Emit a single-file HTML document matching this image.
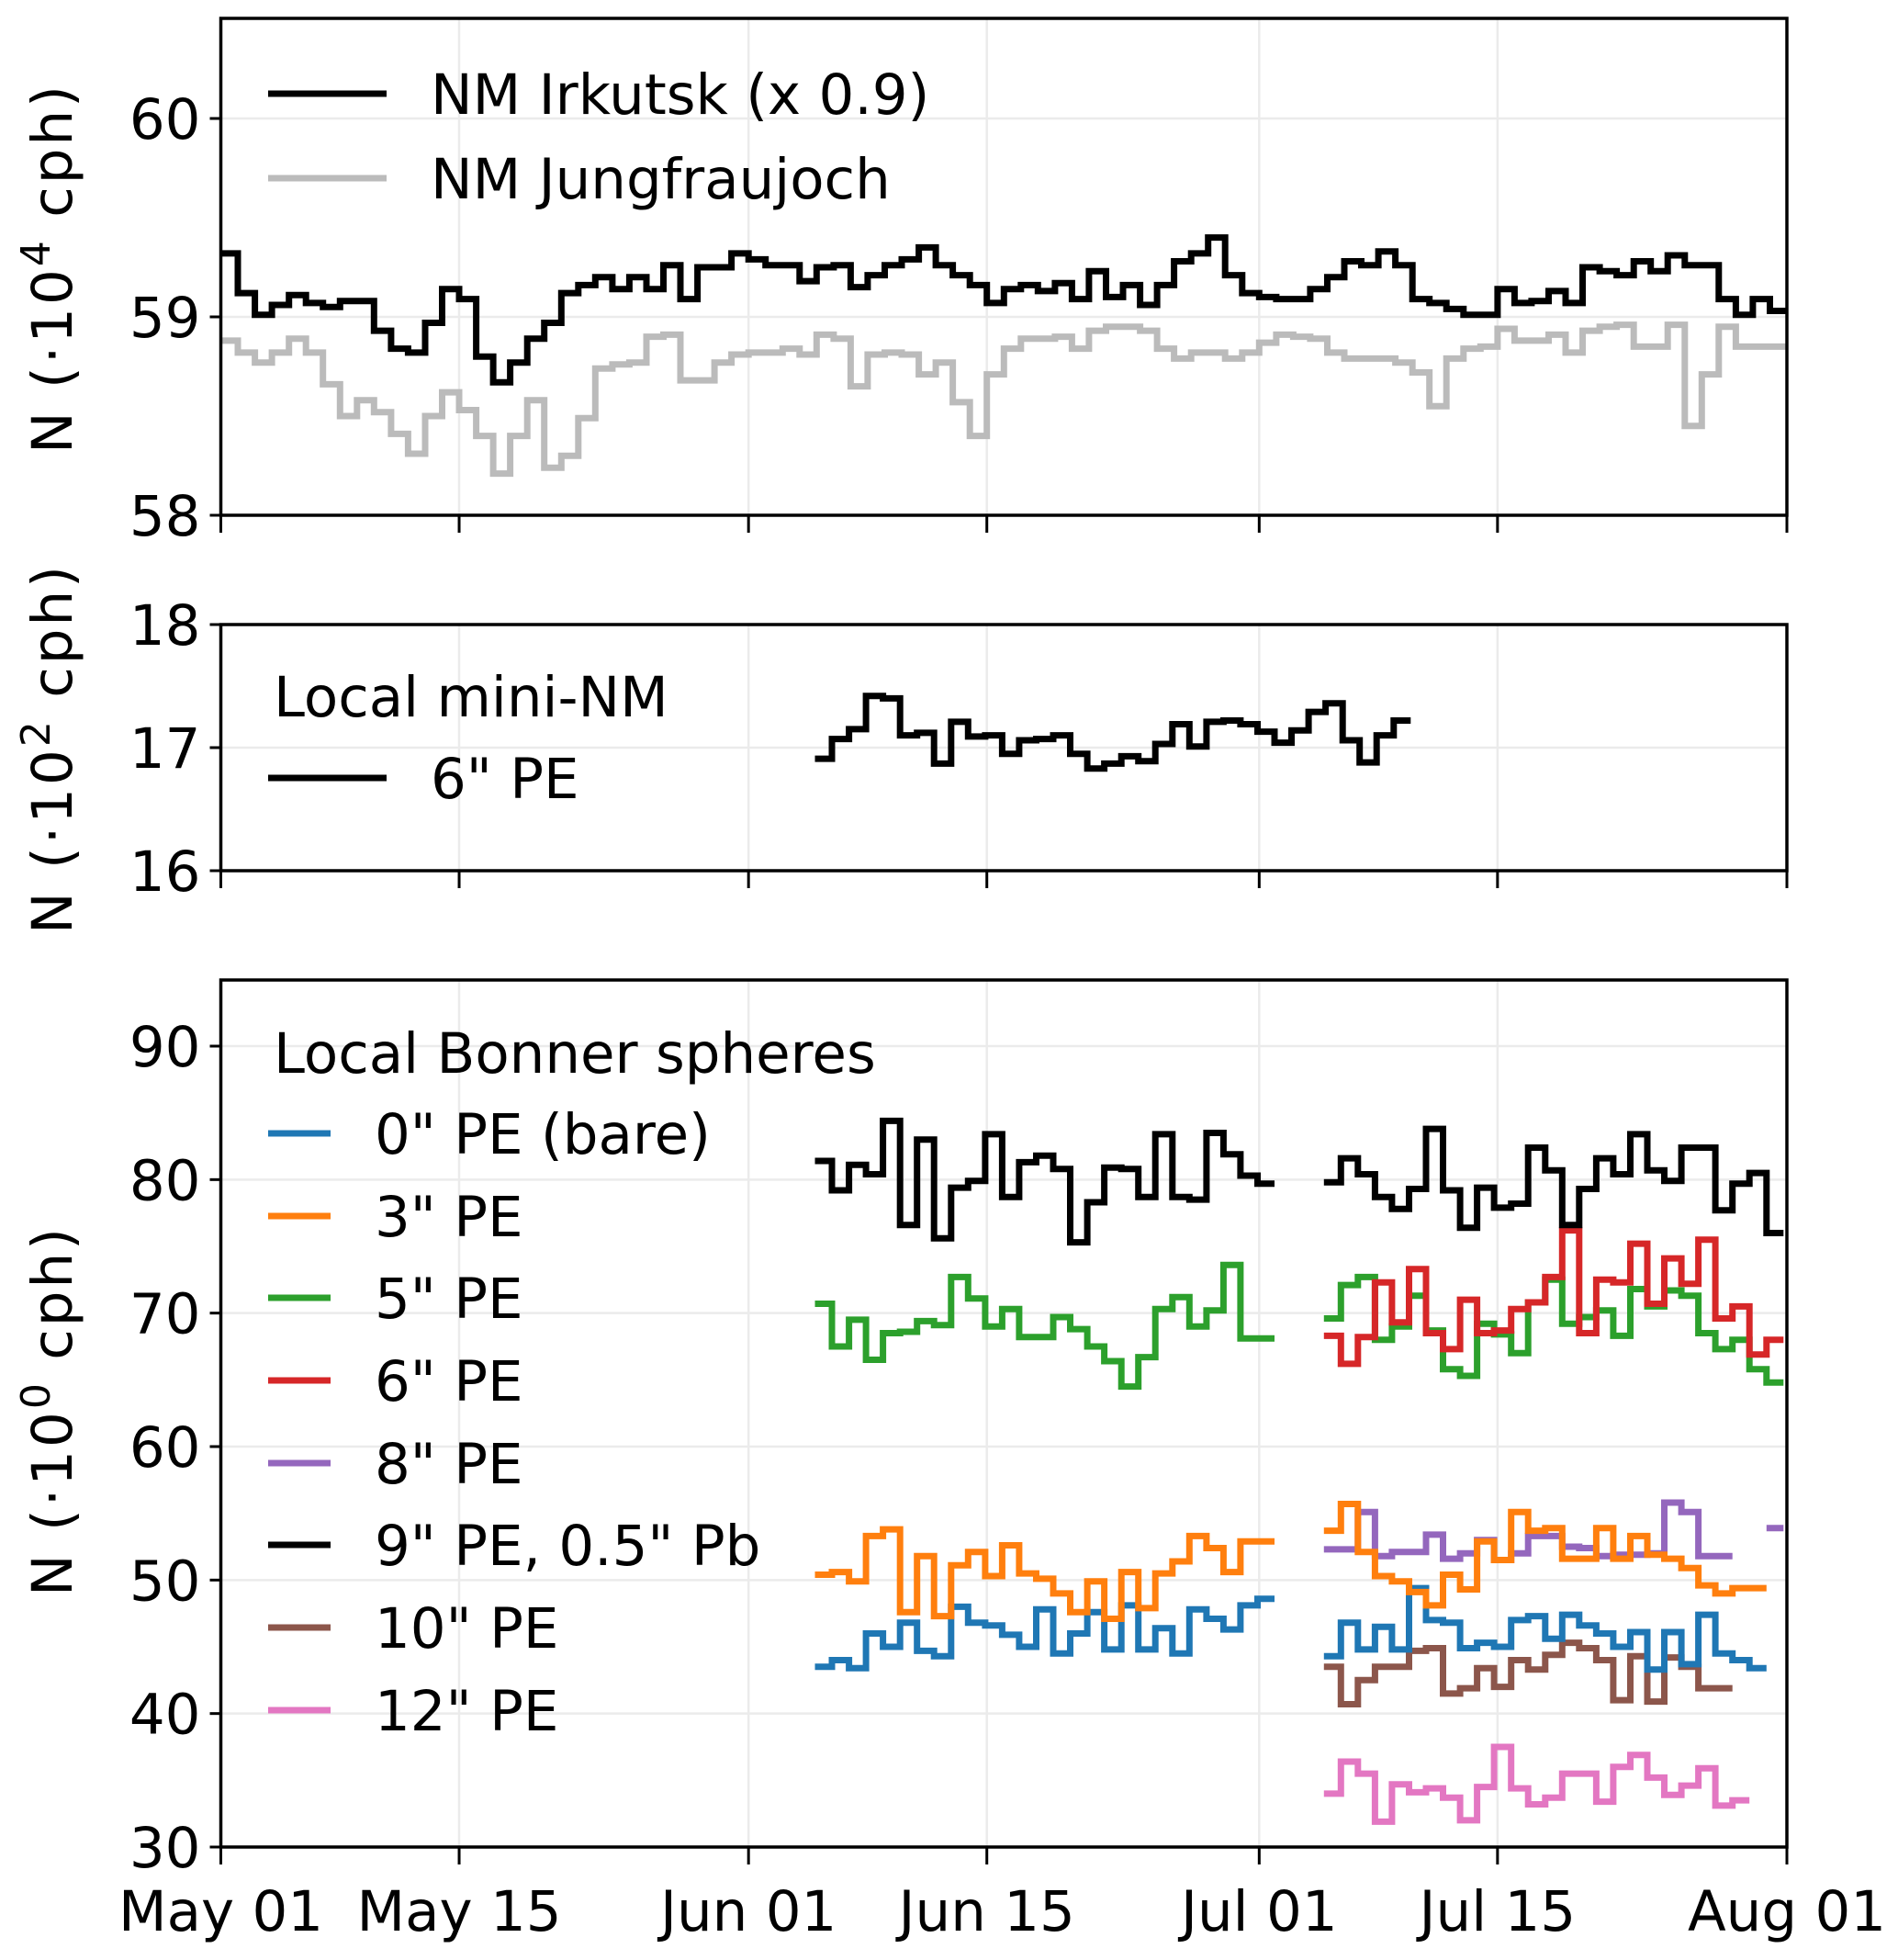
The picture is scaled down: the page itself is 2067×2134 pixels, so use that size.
<!DOCTYPE html>
<html><head><meta charset="utf-8"><style>
html,body{margin:0;padding:0;background:#fff}
svg{display:block;font-family:"DejaVu Sans","Liberation Sans",sans-serif}
</style></head><body>
<svg id="chart" width="2067" height="2134" viewBox="0 0 2067 2134"></svg>
<script>
const xDays = [0,14,31,45,61,75,92];
const xLabels = ["May 01","May 15","Jun 01","Jun 15","Jul 01","Jul 15","Aug 01"];
const irkutsk = [59.32,59.12,59.01,59.06,59.11,59.07,59.05,59.08,59.08,58.93,58.84,58.82,58.97,59.14,59.09,58.80,58.67,58.77,58.89,58.97,59.12,59.16,59.20,59.14,59.20,59.14,59.26,59.09,59.25,59.25,59.32,59.29,59.26,59.26,59.18,59.25,59.26,59.15,59.21,59.26,59.29,59.35,59.26,59.21,59.16,59.07,59.14,59.16,59.13,59.17,59.09,59.23,59.10,59.16,59.06,59.16,59.28,59.32,59.40,59.21,59.12,59.10,59.09,59.09,59.14,59.20,59.28,59.26,59.33,59.26,59.09,59.07,59.04,59.01,59.01,59.14,59.07,59.08,59.13,59.07,59.25,59.23,59.21,59.28,59.23,59.31,59.26,59.26,59.09,59.01,59.09,59.03];
const jungfrau = [58.88,58.82,58.77,58.82,58.89,58.82,58.66,58.50,58.58,58.52,58.41,58.31,58.50,58.62,58.53,58.40,58.21,58.40,58.58,58.24,58.30,58.49,58.74,58.76,58.77,58.90,58.91,58.68,58.68,58.77,58.81,58.82,58.82,58.84,58.81,58.91,58.89,58.65,58.81,58.82,58.81,58.71,58.77,58.57,58.40,58.71,58.84,58.89,58.89,58.90,58.84,58.93,58.95,58.95,58.93,58.84,58.79,58.82,58.82,58.79,58.82,58.87,58.91,58.90,58.89,58.82,58.79,58.79,58.79,58.77,58.72,58.55,58.79,58.84,58.85,58.94,58.88,58.88,58.91,58.82,58.93,58.95,58.96,58.85,58.85,58.96,58.45,58.71,58.95,58.85,58.85,58.85];
const miniNM = [16.91,17.07,17.15,17.42,17.40,17.10,17.12,16.87,17.21,17.09,17.10,16.95,17.06,17.07,17.10,16.95,16.83,16.87,16.93,16.89,17.03,17.19,17.01,17.21,17.22,17.19,17.13,17.04,17.14,17.29,17.36,17.06,16.88,17.10,17.22];
const bs9a = [81.4,79.2,81.1,80.4,84.4,76.6,83.0,75.6,79.4,79.9,83.4,78.7,81.3,81.8,80.8,75.3,78.3,80.9,80.8,78.7,83.4,78.7,78.5,83.5,81.9,80.3,79.7];
const bs9b = [79.8,81.6,80.4,78.7,77.8,79.3,83.8,79.2,76.4,79.4,77.9,78.2,82.4,80.7,76.6,79.3,81.6,80.4,83.4,80.7,79.9,82.4,82.4,77.7,79.7,80.5,76.0];
const bs5a = [70.7,67.5,69.5,66.5,68.5,68.6,69.4,69.1,72.7,71.1,69.0,70.3,68.2,68.2,69.7,68.8,67.5,66.4,64.5,66.7,70.3,71.2,69.0,70.2,73.6,68.1,68.1];
const bs5b = [69.6,72.1,72.7,68.0,69.0,71.3,68.7,65.8,65.3,69.2,68.4,67.0,70.8,72.5,69.2,69.7,70.2,68.3,71.8,70.5,71.7,71.3,68.5,67.3,68.0,65.8,64.8];
const bs6b = [68.3,66.2,68.2,72.3,69.3,73.3,68.5,67.3,71.0,68.5,68.7,70.3,70.8,72.7,76.2,68.5,72.5,72.3,75.2,70.7,74.1,72.2,75.5,69.6,70.5,66.9,68.0];
const bs3a = [50.4,50.6,49.9,53.3,53.8,47.6,51.8,47.3,51.1,52.1,50.3,52.6,50.5,50.1,49.0,47.6,49.9,47.1,50.6,47.9,50.5,51.4,53.3,52.4,50.6,52.9,52.9];
const bs3b = [53.7,55.7,52.1,50.3,49.9,49.1,48.1,50.4,49.3,52.9,51.5,55.1,53.7,53.9,51.6,51.6,53.9,51.6,53.3,51.9,51.6,50.9,49.6,49.0,49.4,49.4];
const bs0a = [43.5,44.0,43.4,46.0,45.0,46.8,44.7,44.3,48.0,46.8,46.6,45.9,45.0,47.8,44.5,46.0,47.6,44.8,48.1,44.8,46.4,44.5,47.8,47.1,46.3,48.1,48.6];
const bs0b = [44.3,46.8,44.8,46.5,44.8,49.4,47.0,46.8,44.9,45.3,45.0,47.0,47.3,45.6,47.4,46.6,46.0,45.0,46.1,43.3,46.1,43.7,47.4,44.5,44.0,43.4];
const bs8b = [52.3,52.3,55.1,51.8,52.1,52.1,53.4,51.6,52.0,53.0,51.5,52.0,53.3,53.3,52.5,52.4,51.8,51.9,51.9,52.0,55.8,55.1,51.8,51.8,null,null,53.9];
const bs10b = [43.5,40.7,42.5,43.5,43.5,44.7,44.9,41.5,41.9,43.4,42.0,44.0,43.3,44.4,45.3,44.9,44.0,41.0,44.3,40.9,44.2,43.5,41.9,41.9];
const bs12b = [34.0,36.4,35.5,31.9,34.7,34.1,34.4,33.7,32.0,34.5,37.5,34.4,33.2,33.7,35.5,35.5,33.4,36.0,36.9,35.2,33.9,34.6,35.9,33.1,33.5];

const NS='http://www.w3.org/2000/svg';
const svg=document.getElementById('chart');
function mk(tag,attrs,parent){const e=document.createElementNS(NS,tag);for(const k in attrs)e.setAttribute(k,attrs[k]);(parent||svg).appendChild(e);return e;}
const X0=240.5,X1=1946,DAYS=92,FS=61,LW=7;
function xs(d){return X0+(X1-X0)*d/DAYS;}
const panels=[
 {top:20,bot:561,min:58,max:60.5,ticks:[58,59,60],lab:'4',ycen:292,name:'panel-nm'},
 {top:680,bot:948,min:16,max:18,ticks:[16,17,18],lab:'2',ycen:815,name:'panel-mini-nm'},
 {top:1067,bot:2011,min:30,max:95,ticks:[30,40,50,60,70,80,90],lab:'0',ycen:1536,name:'panel-bonner'}];
panels[0].max=58+(561-20)/216;
panels[2].max=30+(2011-1067)/(872/60);
panels.forEach((p,pi)=>{
 p.ys=v=>p.bot-(v-p.min)/(p.max-p.min)*(p.bot-p.top);
 const g=mk('g',{});  
 p.g=g;
 xDays.forEach(d=>{const l=mk('line',{x1:xs(d),x2:xs(d),y1:p.top,y2:p.bot,stroke:'#ebebeb','stroke-width':2.5},g);});
 p.ticks.forEach(t=>{const y=p.ys(t);
  const l=mk('line',{x1:X0,x2:X1,y1:y,y2:y,stroke:'#ebebeb','stroke-width':2.5},g);
  const tk=mk('line',{x1:X0-12,x2:X0,y1:y,y2:y,stroke:'#000','stroke-width':3},g);
  const tx=mk('text',{x:X0-22,y:y+22,'text-anchor':'end','font-size':FS},g);tx.textContent=t;
 });
 xDays.forEach(d=>{const tk=mk('line',{x1:xs(d),x2:xs(d),y1:p.bot,y2:p.bot+19,stroke:'#000','stroke-width':3},g);});
 const yl=mk('text',{x:0,y:0,'text-anchor':'middle','font-size':FS,'letter-spacing':3,transform:`translate(78,${p.ycen}) rotate(-90)`},g);
 
 yl.innerHTML=`N (·10<tspan dy="-24" font-size="44">${p.lab}</tspan><tspan dy="24"> cph)</tspan>`;
});
function step(p,arr,start,color,name,w){
 let d='',pen=false;
 arr.forEach((v,i)=>{
  if(v===null){pen=false;return;}
  const xa=xs(Math.min(start+i,DAYS)),xb=xs(Math.min(start+i+1,DAYS)),y=p.ys(v);
  d+=(pen?'L':'M')+xa.toFixed(1)+' '+y.toFixed(1)+'L'+xb.toFixed(1)+' '+y.toFixed(1);
  pen=true;
 });
 const e=mk('path',{d:d,fill:'none',stroke:color,'stroke-width':w||LW,'stroke-linejoin':'miter'},p.g);
 
}
const P1=panels[0],P2=panels[1],P3=panels[2];
step(P1,jungfrau,0,'#bbbbbb','series-jungfraujoch');
step(P1,irkutsk,0,'#000','series-irkutsk');
step(P2,miniNM,34.9,'#000','series-mini-nm-6pe');
const A=34.9,B=64.8;
step(P3,bs12b,B,'#e377c2','series-12pe');
step(P3,bs10b,B,'#8c564b','series-10pe');
step(P3,bs0a,A,'#1f77b4','series-0pe-a');step(P3,bs0b,B,'#1f77b4','series-0pe-b');
step(P3,bs8b,B,'#9467bd','series-8pe');
step(P3,bs3a,A,'#ff7f0e','series-3pe-a');step(P3,bs3b,B,'#ff7f0e','series-3pe-b');
step(P3,bs5a,A,'#2ca02c','series-5pe-a');step(P3,bs5b,B,'#2ca02c','series-5pe-b');
step(P3,bs6b,B,'#d62728','series-6pe');
step(P3,bs9a,A,'#000','series-9pe-a');step(P3,bs9b,B,'#000','series-9pe-b');
panels.forEach(p=>{const r=mk('rect',{x:X0,y:p.top,width:X1-X0,height:p.bot-p.top,fill:'none',stroke:'#000','stroke-width':3.5},p.g);});
xDays.forEach((d,i)=>{const t=mk('text',{x:xs(d),y:2102,'text-anchor':'middle','font-size':FS});t.textContent=xLabels[i];});
function leg(x1,x2,y,color,label,tx,g){
 const l=mk('line',{x1:x1,x2:x2,y1:y,y2:y,stroke:color,'stroke-width':LW},g);
 const t=mk('text',{x:tx,y:y+22,'font-size':FS},g);t.textContent=label;
}
function title(x,y,s,g){const t=mk('text',{x:x,y:y+22,'font-size':FS},g);t.textContent=s;}
const lg1=mk('g',{});
leg(292,421,102,'#000','NM Irkutsk (x 0.9)',469,lg1);
leg(292,421,194,'#bbbbbb','NM Jungfraujoch',469,lg1);
const lg2=mk('g',{});
title(298,758,'Local mini-NM',lg2);
leg(292,421,847,'#000','6" PE',469,lg2);
const lg3=mk('g',{});
title(298,1146,'Local Bonner spheres',lg3);
const legC=['#1f77b4','#ff7f0e','#2ca02c','#d62728','#9467bd','#000','#8c564b','#e377c2'];
const legL=['0" PE (bare)','3" PE','5" PE','6" PE','8" PE','9" PE, 0.5" Pb','10" PE','12" PE'];
const legY=[1234,1324,1413,1503,1593,1682,1772,1862];
legL.forEach((s,i)=>leg(292,360,legY[i],legC[i],s,408,lg3));
</script>
</body></html>
